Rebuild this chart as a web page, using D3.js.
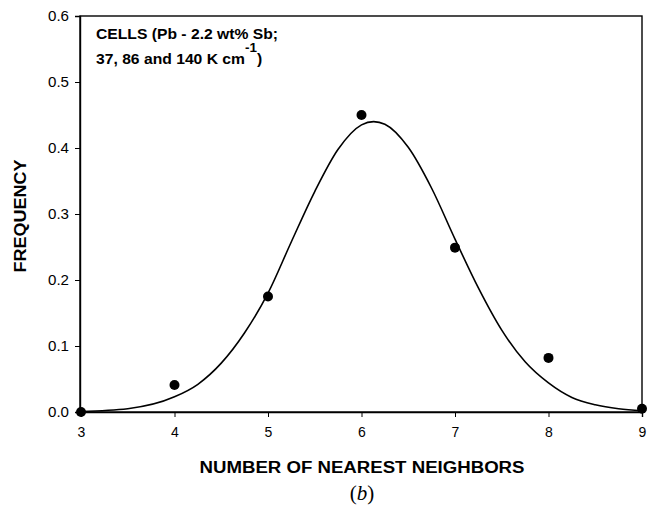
<!DOCTYPE html>
<html>
<head>
<meta charset="utf-8">
<script src="https://cdn.jsdelivr.net/npm/d3@7"></script>
<style>
  html, body { margin: 0; padding: 0; background: #fff; }
  svg text { font-family: "Liberation Sans", Arial, sans-serif; fill: #000; }
</style>
</head>
<body>
<svg id="chart" width="647" height="514"></svg>
<script>
// Measured frequencies of cell neighbour counts
const neighbors = [3, 4, 5, 6, 7, 8, 9];
const frequency = [0.0, 0.041, 0.175, 0.45, 0.249, 0.082, 0.005];

// Fitted distribution curve, sampled along the neighbour axis
const fitX = [3, 3.5, 4, 4.25, 4.5, 4.75, 5, 5.25, 5.5, 5.75, 6, 6.13, 6.25, 6.5, 6.75, 7, 7.25, 7.5, 7.75, 8, 8.25, 8.5, 8.75, 9];
const fitY = [0.0008, 0.005, 0.023, 0.042, 0.074, 0.12, 0.18, 0.258, 0.334, 0.398, 0.435, 0.44, 0.436, 0.401, 0.339, 0.262, 0.188, 0.124, 0.076, 0.044, 0.022, 0.011, 0.005, 0.002];

const xTicks = [3, 4, 5, 6, 7, 8, 9];
const yTicks = [0.0, 0.1, 0.2, 0.3, 0.4, 0.5, 0.6];

const svg = d3.select("#chart");

const x = d3.scaleLinear().domain([3, 9]).range([81, 642]);
const y = d3.scaleLinear().domain([0, 0.6]).range([412, 16]);

// frame
svg.append("rect")
  .attr("x", 80).attr("y", y(0.6))
  .attr("width", 642 - 80).attr("height", y(0) - y(0.6))
  .attr("fill", "none").attr("stroke", "#000").attr("stroke-width", 1.4);

// x axis
const gx = svg.append("g").attr("transform", `translate(0,${y(0)})`)
  .call(d3.axisBottom(x).tickValues(xTicks).tickFormat(d3.format("d")).tickSize(5).tickPadding(10));
gx.select(".domain").attr("stroke-width", 1.4);
gx.selectAll(".tick line").attr("stroke-width", 1);
gx.selectAll(".tick text").attr("font-size", 14).style("font-family", "Liberation Sans, Arial, sans-serif");

// y axis
const gy = svg.append("g").attr("transform", `translate(80,0)`)
  .call(d3.axisLeft(y).tickValues(yTicks).tickFormat(d3.format(".1f")).tickSize(5).tickPadding(6));
gy.select(".domain").attr("stroke-width", 1.4);
gy.selectAll(".tick line").attr("stroke-width", 1);
gy.selectAll(".tick text").attr("font-size", 14)
  .attr("textLength", 21).attr("lengthAdjust", "spacingAndGlyphs")
  .style("font-family", "Liberation Sans, Arial, sans-serif");

// fitted curve
const line = d3.line().x((d, i) => x(fitX[i])).y(d => y(d)).curve(d3.curveMonotoneX);
svg.append("path")
  .attr("d", line(fitY))
  .attr("fill", "none").attr("stroke", "#000").attr("stroke-width", 1.6);

// data points
svg.selectAll("circle.pt")
  .data(neighbors)
  .join("circle")
  .attr("class", "pt")
  .attr("cx", d => x(d))
  .attr("cy", (d, i) => y(frequency[i]))
  .attr("r", 5)
  .attr("fill", "#000");

// annotation (slightly widened bold face)
const note = svg.append("g")
  .attr("transform", "translate(96,0) scale(1.12,1)")
  .attr("font-weight", "bold").attr("font-size", 14);
note.append("text").attr("x", 0).attr("y", 39).text("CELLS (Pb - 2.2 wt% Sb;");
const l2 = note.append("text").attr("x", 0).attr("y", 64);
l2.append("tspan").text("37, 86 and 140 K cm");
l2.append("tspan").attr("dy", -12).attr("font-size", 12).text("-1");
l2.append("tspan").attr("dy", 12).text(")");

// axis titles
svg.append("text")
  .attr("x", 362).attr("y", 473)
  .attr("text-anchor", "middle")
  .attr("font-weight", "bold").attr("font-size", 16)
  .attr("textLength", 325).attr("lengthAdjust", "spacingAndGlyphs")
  .text("NUMBER OF NEAREST NEIGHBORS");

svg.append("text")
  .attr("transform", `translate(26,${(y(0) + y(0.6)) / 2 + 2}) rotate(-90)`)
  .attr("text-anchor", "middle")
  .attr("font-weight", "bold").attr("font-size", 16)
  .attr("textLength", 113).attr("lengthAdjust", "spacingAndGlyphs")
  .text("FREQUENCY");

// panel label
const lab = svg.append("text")
  .attr("x", 362).attr("y", 500)
  .attr("text-anchor", "middle")
  .style("font-family", "Liberation Serif, Times New Roman, serif")
  .attr("font-size", 21);
lab.append("tspan").text("(");
lab.append("tspan").attr("font-style", "italic").text("b");
lab.append("tspan").text(")");
</script>
</body>
</html>
